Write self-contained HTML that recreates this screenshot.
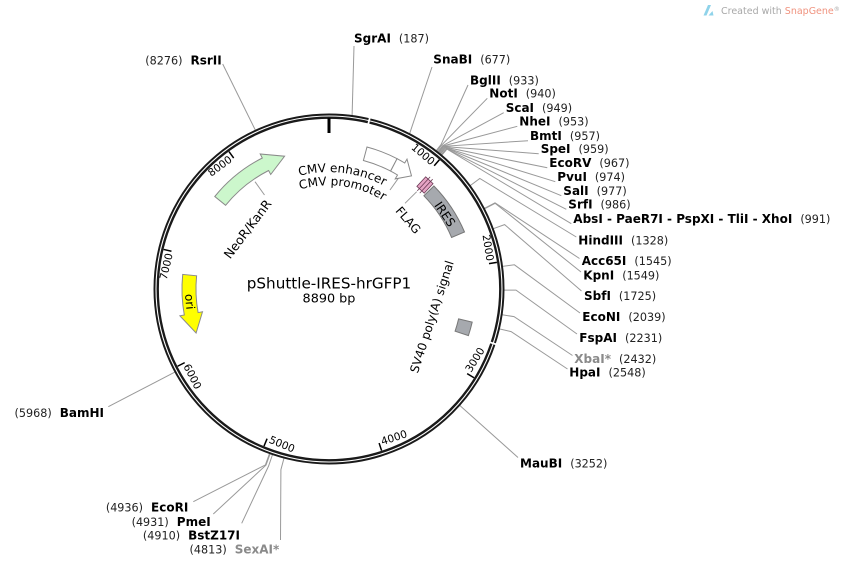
<!DOCTYPE html>
<html>
<head>
<meta charset="utf-8">
<style>
html,body{margin:0;padding:0;background:#fff;}
svg{display:block;}
text{font-family:"DejaVu Sans","Liberation Sans",sans-serif;fill:#000;}
.n{font-weight:bold;font-size:12px;}
.p{font-size:11.2px;fill:#222;}
.g{fill:#8a8a8a;}
.tk{font-size:10.5px;}
.ln{stroke:#999;stroke-width:1;fill:none;}
.ft{font-size:12px;}
</style>
</head>
<body>
<svg width="849" height="565" viewBox="0 0 849 565" xmlns="http://www.w3.org/2000/svg">
<rect width="849" height="565" fill="#fff"/>

<!-- watermark -->
<polygon points="703.5,15.5 708,5 711,5 706.5,15.5" fill="#8fd3ea"/>
<polygon points="708.5,15.5 712.5,11 713.5,15.5" fill="#8fd3ea"/>
<text x="721" y="14" font-size="9.5" style="fill:#a8a8a8">Created with <tspan style="fill:#f0937f">SnapGene</tspan><tspan font-size="6" dy="-3" style="fill:#a8a8a8">®</tspan></text>

<!-- connector lines -->
<g class="ln">
<polyline points="352.1,115.5 354,46"/>
<polyline points="409.6,133.7 432,67"/>
<polyline points="255.4,130.2 222.7,64"/>
<polyline points="436.2,150.7 441.1,144.4 468,85"/>
<polyline points="436.9,151.2 441.8,144.9 487.3,98.3"/>
<polyline points="437.8,151.9 442.8,145.6 503.7,112.7"/>
<polyline points="438.2,152.2 443.2,146.0 517.3,126.3"/>
<polyline points="438.5,152.5 443.6,146.3 528,140.7"/>
<polyline points="438.7,152.7 443.8,146.5 538.7,153.7"/>
<polyline points="439.5,153.3 444.6,147.1 547.3,167.7"/>
<polyline points="440.2,153.9 445.3,147.7 555.3,181.7"/>
<polyline points="440.5,154.1 445.6,147.9 561.3,195.7"/>
<polyline points="441.3,154.8 446.4,148.7 566.3,209.3"/>
<polyline points="441.8,155.2 447.0,149.1 571.3,223.7"/>
<polyline points="470.2,185.6 479.8,178.5 576.3,237"/>
<polyline points="484.3,208.4 495.0,202.8 579.5,258.5"/>
<polyline points="484.5,208.8 495.2,203.3 581,272"/>
<polyline points="493.3,228.7 504.6,224.6 581.5,291"/>
<polyline points="502.5,266.4 514.4,264.8 580,313"/>
<polyline points="504,290.1 516,290.1 577,334"/>
<polyline points="502.1,314.8 514,316.6 572.5,355.5"/>
<polyline points="499.4,328.9 511.1,331.6 567.5,369"/>
<polyline points="459.7,405.4 518,457.5"/>
<polyline points="174.9,372.1 108.3,406.7"/>
<polyline points="269.5,453.6 265.4,464.9 193.3,501.7"/>
<polyline points="270.1,453.8 266.0,465.1 213.3,514"/>
<polyline points="272.5,454.6 268.6,466.0 241.7,523.3"/>
<polyline points="284.0,458.1 280.9,469.7 280.5,540"/>
<!-- feature connectors -->
<polyline points="390,190 398.3,178.3"/>
<polyline points="405,203.3 416.7,191.7"/>
<polyline points="255,181.7 264.5,195"/>
</g>

<!-- backbone ring -->
<circle cx="329" cy="289" r="172.8" fill="none" stroke="#1a1a1a" stroke-width="5.4"/>
<circle cx="329" cy="289" r="173" fill="none" stroke="#fff" stroke-width="1.1"/>
<line x1="367.9" y1="125.6" x2="370.0" y2="116.8" stroke="#fff" stroke-width="1.8"/>
<line x1="488.5" y1="341.8" x2="497.0" y2="344.6" stroke="#fff" stroke-width="1.8"/>

<!-- zero tick -->
<line x1="329" y1="118" x2="329" y2="133" stroke="#000" stroke-width="3"/>

<!-- ticks and labels -->
<g stroke="#000" stroke-width="1.5">
<g transform="rotate(40.49 329 289)"><line x1="329" y1="119" x2="329" y2="127"/><text class="tk" x="326.5" y="129" text-anchor="end" stroke="none">1000</text></g>
<g transform="rotate(80.99 329 289)"><line x1="329" y1="119" x2="329" y2="127"/><text class="tk" x="326.5" y="129" text-anchor="end" stroke="none">2000</text></g>
<g transform="rotate(-58.52 329 289)"><line x1="329" y1="459" x2="329" y2="451"/><text class="tk" x="331.5" y="454" stroke="none">3000</text></g>
<g transform="rotate(-18.02 329 289)"><line x1="329" y1="459" x2="329" y2="451"/><text class="tk" x="331.5" y="454" stroke="none">4000</text></g>
<g transform="rotate(22.47 329 289)"><line x1="329" y1="459" x2="329" y2="451"/><text class="tk" x="331.5" y="454" stroke="none">5000</text></g>
<g transform="rotate(62.97 329 289)"><line x1="329" y1="459" x2="329" y2="451"/><text class="tk" x="331.5" y="454" stroke="none">6000</text></g>
<g transform="rotate(-76.54 329 289)"><line x1="329" y1="119" x2="329" y2="127"/><text class="tk" x="326.5" y="129" text-anchor="end" stroke="none">7000</text></g>
<g transform="rotate(-36.04 329 289)"><line x1="329" y1="119" x2="329" y2="127"/><text class="tk" x="326.5" y="129" text-anchor="end" stroke="none">8000</text></g>
</g>

<!-- features -->
<path d="M214.8,196.5 A147,147 0 0 1 262.3,158.0 L260.2,154.0 L284.6,156.2 L270.7,174.5 L268.6,170.5 A133,133 0 0 0 225.6,205.3 Z" fill="#ccf7cc" stroke="#8a8a8a" stroke-width="1"/>
<path d="M367.0,147.0 A147,147 0 0 1 397.1,158.7 L390.6,171.1 A133,133 0 0 0 363.4,160.5 Z" fill="#fff" stroke="#8a8a8a" stroke-width="1"/>
<path d="M397.1,158.7 A147,147 0 0 1 404.7,163.0 L407.0,159.1 L411.5,175.9 L395.2,178.9 L397.5,175.0 A133,133 0 0 0 390.6,171.1 Z" fill="#fff" stroke="#8a8a8a" stroke-width="1"/>
<path d="M182.7,274.4 A147,147 0 0 0 184.3,315.0 L179.9,315.8 L196.1,333.0 L202.5,311.8 L198.1,312.6 A133,133 0 0 1 196.6,275.8 Z" fill="#ffff00" stroke="#8a8a8a" stroke-width="1"/>
<path d="M433.9,186.0 A147,147 0 0 1 464.5,232.0 L451.6,237.5 A133,133 0 0 0 423.9,195.8 Z" fill="#a6a9ae" stroke="#777" stroke-width="1"/>
<path d="M472.2,322.1 A147,147 0 0 1 468.4,335.6 L455.1,331.2 A133,133 0 0 0 458.6,318.9 Z" fill="#a6a9ae" stroke="#777" stroke-width="1"/>
<!-- FLAG small features -->
<g transform="rotate(42.7 329 289)">
<rect x="324" y="141" width="10" height="13" fill="#e6a3c4" stroke="#6b3a55" stroke-width="0.8"/>
<line x1="327.3" y1="138" x2="327.3" y2="157" stroke="#6b3a55" stroke-width="0.8"/>
<line x1="330.7" y1="138" x2="330.7" y2="157" stroke="#6b3a55" stroke-width="0.8"/>
</g>

<!-- feature labels -->
<defs>
<path id="arcE" d="M227.7,230.5 A117,117 0 0 1 444.2,268.7"/>
<path id="arcP" d="M239.2,237.15 A103.7,103.7 0 0 1 431.1,271"/>
</defs>
<text class="ft"><textPath href="#arcE" startOffset="136" text-anchor="middle">CMV enhancer</textPath></text>
<text class="ft"><textPath href="#arcP" startOffset="122.4" text-anchor="middle">CMV promoter</textPath></text>
<text class="ft" x="0" y="0" dy="0.36em" text-anchor="middle" transform="translate(408.3 220) rotate(49)">FLAG</text>
<text class="ft" x="0" y="0" dy="0.36em" text-anchor="middle" transform="translate(445 214) rotate(56)">IRES</text>
<text x="0" y="0" dy="0.36em" text-anchor="middle" font-size="12.5" transform="translate(247.5 229) rotate(-53)">NeoR/KanR</text>
<text class="ft" x="0" y="0" dy="0.36em" text-anchor="middle" transform="translate(190 301.7) rotate(85)">ori</text>
<text class="ft" x="0" y="0" dy="0.36em" text-anchor="middle" transform="translate(431.7 316.7) rotate(-72)">SV40 poly(A) signal</text>

<!-- title -->
<text x="329" y="288.5" text-anchor="middle" font-size="15.2">pShuttle-IRES-hrGFP1</text>
<text x="329" y="302.5" text-anchor="middle" font-size="12.8">8890 bp</text>

<!-- enzyme labels -->
<text x="354" y="42.7"><tspan class="n">SgrAI</tspan><tspan class="p" dx="8">(187)</tspan></text>
<text x="433.3" y="63.7"><tspan class="n">SnaBI</tspan><tspan class="p" dx="8">(677)</tspan></text>
<text x="221.7" y="64.4" text-anchor="end"><tspan class="p">(8276)</tspan><tspan class="n" dx="8">RsrII</tspan></text>
<text x="470" y="84.4"><tspan class="n">BglII</tspan><tspan class="p" dx="8">(933)</tspan></text>
<text x="489.3" y="97.7"><tspan class="n">NotI</tspan><tspan class="p" dx="8">(940)</tspan></text>
<text x="505.7" y="112.1"><tspan class="n">ScaI</tspan><tspan class="p" dx="8">(949)</tspan></text>
<text x="519.3" y="125.7"><tspan class="n">NheI</tspan><tspan class="p" dx="8">(953)</tspan></text>
<text x="530" y="140.1"><tspan class="n">BmtI</tspan><tspan class="p" dx="8">(957)</tspan></text>
<text x="540.7" y="153.1"><tspan class="n">SpeI</tspan><tspan class="p" dx="8">(959)</tspan></text>
<text x="549.3" y="167.1"><tspan class="n">EcoRV</tspan><tspan class="p" dx="8">(967)</tspan></text>
<text x="557.3" y="181.1"><tspan class="n">PvuI</tspan><tspan class="p" dx="8">(974)</tspan></text>
<text x="563.3" y="195.1"><tspan class="n">SalI</tspan><tspan class="p" dx="8">(977)</tspan></text>
<text x="568.3" y="208.7"><tspan class="n">SrfI</tspan><tspan class="p" dx="8">(986)</tspan></text>
<text x="573.3" y="223.1"><tspan class="n">AbsI - PaeR7I - PspXI - TliI - XhoI</tspan><tspan class="p" dx="8">(991)</tspan></text>
<text x="578.3" y="244.4"><tspan class="n">HindIII</tspan><tspan class="p" dx="8">(1328)</tspan></text>
<text x="581.7" y="265.1"><tspan class="n">Acc65I</tspan><tspan class="p" dx="8">(1545)</tspan></text>
<text x="583.3" y="279.4"><tspan class="n">KpnI</tspan><tspan class="p" dx="8">(1549)</tspan></text>
<text x="584" y="300.1"><tspan class="n">SbfI</tspan><tspan class="p" dx="8">(1725)</tspan></text>
<text x="582.3" y="321.1"><tspan class="n">EcoNI</tspan><tspan class="p" dx="8">(2039)</tspan></text>
<text x="579.3" y="342.1"><tspan class="n">FspAI</tspan><tspan class="p" dx="8">(2231)</tspan></text>
<text x="574.3" y="363.1"><tspan class="n g">XbaI*</tspan><tspan class="p" dx="8">(2432)</tspan></text>
<text x="569.3" y="376.7"><tspan class="n">HpaI</tspan><tspan class="p" dx="8">(2548)</tspan></text>
<text x="520" y="467.7"><tspan class="n">MauBI</tspan><tspan class="p" dx="8">(3252)</tspan></text>
<text x="104" y="417.1" text-anchor="end"><tspan class="p">(5968)</tspan><tspan class="n" dx="8">BamHI</tspan></text>
<text x="188.3" y="511.7" text-anchor="end"><tspan class="p">(4936)</tspan><tspan class="n" dx="8">EcoRI</tspan></text>
<text x="210.7" y="526.1" text-anchor="end"><tspan class="p">(4931)</tspan><tspan class="n" dx="8">PmeI</tspan></text>
<text x="240" y="539.4" text-anchor="end"><tspan class="p">(4910)</tspan><tspan class="n" dx="8">BstZ17I</tspan></text>
<text x="279.3" y="553.7" text-anchor="end"><tspan class="p">(4813)</tspan><tspan class="n g" dx="8">SexAI*</tspan></text>
</svg>
</body>
</html>
